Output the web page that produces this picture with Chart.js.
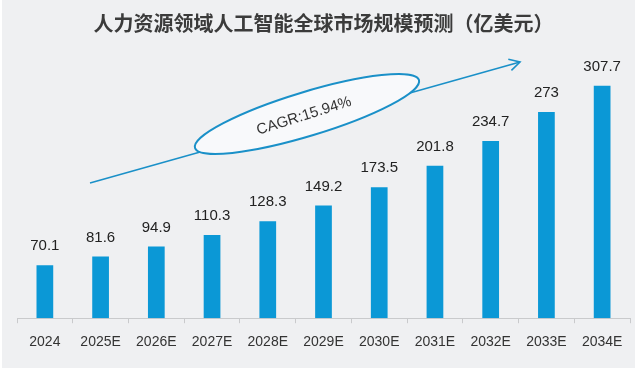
<!DOCTYPE html>
<html>
<head>
<meta charset="utf-8">
<script src="https://cdn.jsdelivr.net/npm/chart.js@4"></script>
<style>
  html, body { margin: 0; padding: 0; background: #fff; }
  #box { width: 640px; height: 373px; }
</style>
</head>
<body>
<div id="box"><canvas id="marketChart"></canvas></div>
<script>
// data
const years = ["2024","2025E","2026E","2027E","2028E","2029E","2030E","2031E","2032E","2033E","2034E"];
const marketSize = [70.1, 81.6, 94.9, 110.3, 128.3, 149.2, 173.5, 201.8, 234.7, 273, 307.7];
const chartTitle = "人力资源领域人工智能全球市场规模预测（亿美元）";
const cagrText = "CAGR:15.94%";

const BLUE = "#0b98d6";

/* panel background */
const panelBg = {
  id: "panelBg",
  beforeDraw(chart) {
    const ctx = chart.ctx;
    ctx.save();
    ctx.fillStyle = "#ffffff";
    ctx.fillRect(0, 0, chart.width, chart.height);
    ctx.fillStyle = "#eff0f2";
    ctx.fillRect(2, 0, chart.width - 7, chart.height - 5);
    ctx.restore();
  }
};

/* numbers on top of the bars */
const valueLabels = {
  id: "valueLabels",
  afterDatasetsDraw(chart) {
    const ctx = chart.ctx;
    const meta = chart.getDatasetMeta(0);
    ctx.save();
    ctx.font = "15px 'Liberation Sans', Arial, sans-serif";
    ctx.fillStyle = "#222";
    ctx.textAlign = "center";
    ctx.textBaseline = "middle";
    meta.data.forEach((bar, i) => {
      ctx.fillText(String(marketSize[i]), bar.x, bar.y - 19);
    });
    ctx.restore();
  }
};

/* growth arrow + CAGR ellipse */
const cagrNote = {
  id: "cagrNote",
  afterDatasetsDraw(chart) {
    const ctx = chart.ctx;
    const x0 = 90, y0 = 183, x1 = 520, y1 = 62;
    const ang = Math.atan2(y1 - y0, x1 - x0);
    ctx.save();
    ctx.strokeStyle = "#1a90c8";
    ctx.lineWidth = 1.6;
    ctx.beginPath();
    ctx.moveTo(x0, y0);
    ctx.lineTo(x1, y1);
    ctx.stroke();
    // open arrow head
    ctx.beginPath();
    ctx.moveTo(x1 - 12 * Math.cos(ang - 0.5), y1 - 12 * Math.sin(ang - 0.5));
    ctx.lineTo(x1, y1);
    ctx.lineTo(x1 - 12 * Math.cos(ang + 0.5), y1 - 12 * Math.sin(ang + 0.5));
    ctx.stroke();

    // ellipse
    const cx = 307, cy = 114;
    ctx.beginPath();
    ctx.ellipse(cx, cy, 117, 22, ang - 0.02, 0, Math.PI * 2);
    ctx.fillStyle = "#f8f9fb";
    ctx.fill();
    ctx.lineWidth = 2;
    ctx.stroke();

    ctx.translate(cx - 3, cy + 2);
    ctx.rotate(ang - 0.03);
    ctx.font = "15px 'Liberation Sans', Arial, sans-serif";
    ctx.fillStyle = "#333";
    ctx.textAlign = "center";
    ctx.textBaseline = "middle";
    ctx.fillText(cagrText, 0, 0);
    ctx.restore();
  }
};

new Chart(document.getElementById("marketChart"), {
  type: "bar",
  data: {
    labels: years,
    datasets: [{
      data: marketSize,
      backgroundColor: BLUE,
      barPercentage: 0.3,
      categoryPercentage: 1
    }]
  },
  options: {
    responsive: true,
    maintainAspectRatio: false,
    animation: false,
    layout: { padding: { left: 17, right: 10, top: 0, bottom: 11 } },
    plugins: {
      legend: { display: false },
      tooltip: { enabled: false },
      title: {
        display: true,
        text: chartTitle,
        color: "#3b3b3b",
        font: { size: 20, weight: "bold", family: "'Noto Sans CJK SC', sans-serif" },
        padding: { top: 11, bottom: 12 }
      }
    },
    scales: {
      x: {
        grid: {
          display: true,
          drawOnChartArea: false,
          offset: true,
          tickLength: 5,
          color: "#c9cacc"
        },
        border: { color: "#c9cacc", width: 1 },
        ticks: {
          color: "#333",
          padding: 11,
          font: { size: 14, family: "'Liberation Sans', Arial, sans-serif" }
        }
      },
      y: {
        display: false,
        min: 0,
        max: 359
      }
    }
  },
  plugins: [panelBg, valueLabels, cagrNote]
});
</script>
</body>
</html>
